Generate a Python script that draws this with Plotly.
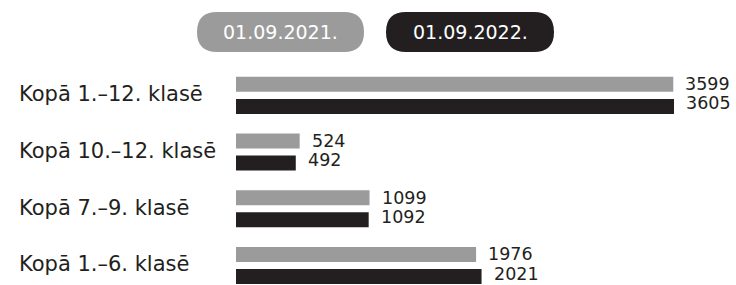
import plotly.graph_objects as go

categories = ["Kopā 1.–12. klasē", "Kopā 10.–12. klasē", "Kopā 7.–9. klasē", "Kopā 1.–6. klasē"]
series_names = ["01.09.2021.", "01.09.2022."]
values_2021 = [3599, 524, 1099, 1976]
values_2022 = [3605, 492, 1092, 2021]

GRAY = "#9b9b9b"
BLACK = "#231f20"
TEXT = "#231f20"
FONT = "DejaVu Sans"

W, H = 736, 285
ML, MR, MT, MB = 236, 16, 67, 0
PW, PH = W - ML - MR, H - MT - MB
SCALE = 0.1215  # px per unit
XMAX = PW / SCALE
PITCH = 56.7
YBOT = -0.5 + PH / PITCH
BARGAP, GROUPGAP = 0.22, 0.32
SLOT = (1 - BARGAP) / 2


def px2x(px):
    return (px - ML) / PW


def px2y(py):
    return (H - MB - py) / PH


fig = go.Figure()
series = [(series_names[0], values_2021, GRAY, -SLOT / 2, 0),
          (series_names[1], values_2022, BLACK, SLOT / 2, 3)]
for name, vals, col, off, yshift in series:
    fig.add_trace(go.Bar(
        y=categories, x=vals, orientation="h", name=name,
        marker=dict(color=col, line=dict(width=0)),
        showlegend=False, hoverinfo="skip",
    ))
    for i, v in enumerate(vals):
        fig.add_annotation(x=v, xref="x", y=i + off, yref="y", text=str(v),
                           xanchor="left", yanchor="middle", showarrow=False,
                           xshift=10, yshift=yshift,
                           font=dict(family=FONT, size=17.5, color=TEXT))

# category labels, left aligned
for c in categories:
    fig.add_annotation(x=px2x(17), xref="paper", y=c, yref="y", text=c,
                       xanchor="left", yanchor="middle", showarrow=False,
                       font=dict(family=FONT, size=21, color=TEXT), yshift=1)


def pill(x0, x1, y0, y1, color):
    r = (y1 - y0) / 2
    p = f"M{px2x(x0 + r)},{px2y(y0)} L{px2x(x1 - r)},{px2y(y0)} "
    p += f"Q{px2x(x1)},{px2y(y0)} {px2x(x1)},{px2y(y0 + r)} "
    p += f"Q{px2x(x1)},{px2y(y1)} {px2x(x1 - r)},{px2y(y1)} "
    p += f"L{px2x(x0 + r)},{px2y(y1)} "
    p += f"Q{px2x(x0)},{px2y(y1)} {px2x(x0)},{px2y(y0 + r)} "
    p += f"Q{px2x(x0)},{px2y(y0)} {px2x(x0 + r)},{px2y(y0)} Z"
    return dict(type="path", path=p, xref="paper", yref="paper",
                fillcolor=color, line=dict(width=0), layer="above")


pills = [(197, 364, GRAY), (386, 554, BLACK)]
shapes = []
for (x0, x1, col), name in zip(pills, series_names):
    shapes.append(pill(x0, x1, 12, 52, col))
    fig.add_annotation(x=px2x((x0 + x1) / 2), y=px2y(32), xref="paper", yref="paper",
                       text=name, showarrow=False, xanchor="center", yanchor="middle",
                       font=dict(family=FONT, size=19, color="white"))

fig.update_layout(
    width=W, height=H,
    margin=dict(l=ML, r=MR, t=MT, b=MB, autoexpand=False),
    paper_bgcolor="white", plot_bgcolor="white",
    barmode="group", bargap=BARGAP, bargroupgap=GROUPGAP,
    shapes=shapes,
    xaxis=dict(range=[0, XMAX], visible=False, fixedrange=True),
    yaxis=dict(type="category", categoryorder="array", categoryarray=categories,
               range=[YBOT, -0.5], visible=False, fixedrange=True),
)

fig.write_html("out.html", config={"displayModeBar": False},
               post_script="document.body.style.margin='0';")
